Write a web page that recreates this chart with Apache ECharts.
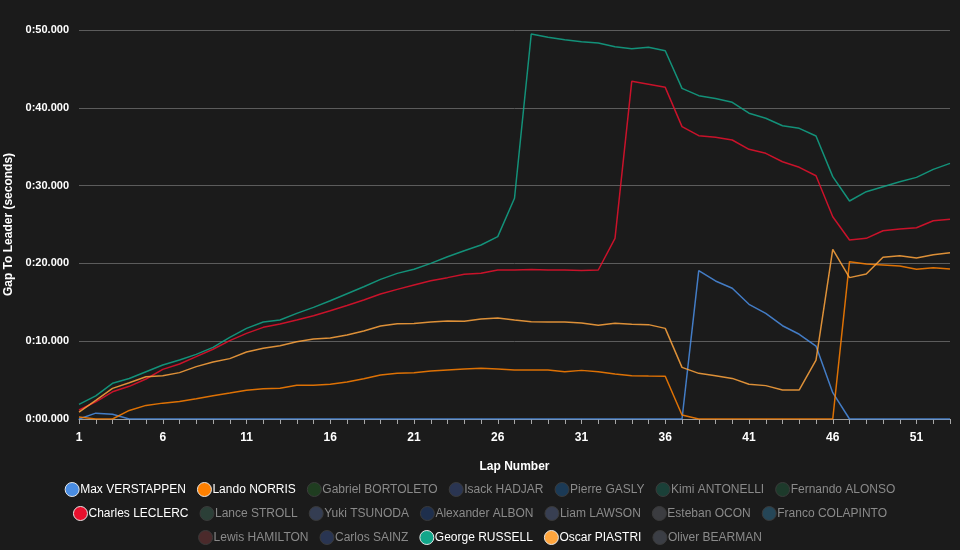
<!DOCTYPE html>
<html>
<head>
<meta charset="utf-8">
<script src="https://cdn.jsdelivr.net/npm/echarts@6/dist/echarts.min.js"></script>
<style>
  html, body { margin: 0; padding: 0; background: #1b1b1b; }
  #chart { width: 960px; height: 550px; }
</style>
</head>
<body>
<div id="chart"></div>
<script>
const laps = ['1','2','3','4','5','6','7','8','9','10','11','12','13','14','15','16','17','18','19','20',
  '21','22','23','24','25','26','27','28','29','30','31','32','33','34','35','36','37','38','39','40',
  '41','42','43','44','45','46','47','48','49','50','51','52','53']

const verstappen = [0, 0.75, 0.6, 0, 0, 0, 0, 0, 0, 0, 0, 0, 0, 0, 0, 0, 0, 0, 0, 0,
  0, 0, 0, 0, 0, 0, 0, 0, 0, 0, 0, 0, 0, 0, 0, 0, 0, 19.07, 17.74, 16.8,
  14.74, 13.58, 11.99, 10.89, 9.38, 3.38, 0, 0, 0, 0, 0, 0, 0]
const norris = [0.26, 0, 0, 1.1, 1.75, 2.04, 2.25, 2.61, 3.0, 3.34, 3.69, 3.9, 3.94, 4.33, 4.33, 4.46, 4.75, 5.16, 5.65, 5.87,
  5.96, 6.17, 6.3, 6.43, 6.51, 6.43, 6.3, 6.3, 6.3, 6.08, 6.25, 6.08, 5.78, 5.57, 5.53, 5.5, 0.51, 0, 0, 0,
  0, 0, 0, 0, 0, 0, 20.22, 19.92, 19.8, 19.67, 19.24, 19.45, 19.28]
const leclerc = [1.16, 2.2, 3.5, 4.2, 5.14, 6.38, 7.07, 8.01, 8.96, 10.07, 11.01, 11.78, 12.21, 12.72, 13.28, 13.92, 14.6, 15.3, 16.07, 16.66,
  17.22, 17.78, 18.17, 18.6, 18.72, 19.15, 19.15, 19.2, 19.15, 19.15, 19.1, 19.15, 23.22, 43.4, 43.02, 42.63, 37.58, 36.42, 36.2, 35.86,
  34.66, 34.15, 33.07, 32.35, 31.27, 26.0, 23.0, 23.22, 24.2, 24.42, 24.59, 25.49, 25.66]
const russell = [1.89, 2.98, 4.59, 5.2, 6.08, 6.94, 7.58, 8.31, 9.21, 10.5, 11.65, 12.47, 12.72, 13.58, 14.35, 15.2, 16.1, 17.0, 17.95, 18.72,
  19.24, 20.0, 20.86, 21.63, 22.36, 23.44, 28.37, 49.49, 49.06, 48.76, 48.5, 48.33, 47.86, 47.58, 47.77, 47.34, 42.5, 41.56, 41.2, 40.7,
  39.3, 38.65, 37.7, 37.36, 36.38, 31.15, 28.02, 29.22, 29.86, 30.5, 31.06, 32.09, 32.86]
const piastri = [0.88, 2.4, 3.94, 4.65, 5.44, 5.57, 5.96, 6.73, 7.33, 7.76, 8.61, 9.08, 9.42, 9.94, 10.28, 10.41, 10.8, 11.32, 11.95, 12.25,
  12.27, 12.47, 12.6, 12.57, 12.85, 12.98, 12.72, 12.51, 12.47, 12.47, 12.34, 12.04, 12.3, 12.17, 12.13, 11.65, 6.64, 5.87, 5.57, 5.22,
  4.46, 4.29, 3.73, 3.73, 7.58, 21.81, 18.17, 18.64, 20.78, 20.99, 20.69, 21.12, 21.38]

// drivers shown in the chart, with their gap data
const shownDrivers = [
  {name: 'Max VERSTAPPEN', color: '#4a8de3', data: verstappen},
  {name: 'Lando NORRIS', color: '#ff8000', data: norris},
  {name: 'Charles LECLERC', color: '#e8102d', data: leclerc},
  {name: 'George RUSSELL', color: '#12a68a', data: russell},
  {name: 'Oscar PIASTRI', color: '#ffa53d', data: piastri}
]
// drivers with no line drawn (legend only, faded)
const fadedDrivers = [
  {name: 'Gabriel BORTOLETO', color: '#1f3d20'},
  {name: 'Isack HADJAR', color: '#2a3552'},
  {name: 'Pierre GASLY', color: '#1b3a56'},
  {name: 'Kimi ANTONELLI', color: '#1a4038'},
  {name: 'Fernando ALONSO', color: '#1d3a2b'},
  {name: 'Lance STROLL', color: '#2b3f37'},
  {name: 'Yuki TSUNODA', color: '#343d52'},
  {name: 'Alexander ALBON', color: '#1e2f4d'},
  {name: 'Liam LAWSON', color: '#383f52'},
  {name: 'Esteban OCON', color: '#3b3c40'},
  {name: 'Franco COLAPINTO', color: '#254657'},
  {name: 'Lewis HAMILTON', color: '#4b2a2b'},
  {name: 'Carlos SAINZ', color: '#293552'},
  {name: 'Oliver BEARMAN', color: '#3b3e45'}
]

const legendRows = [
  ['Max VERSTAPPEN', 'Lando NORRIS', 'Gabriel BORTOLETO', 'Isack HADJAR', 'Pierre GASLY', 'Kimi ANTONELLI', 'Fernando ALONSO'],
  ['Charles LECLERC', 'Lance STROLL', 'Yuki TSUNODA', 'Alexander ALBON', 'Liam LAWSON', 'Esteban OCON', 'Franco COLAPINTO'],
  ['Lewis HAMILTON', 'Carlos SAINZ', 'George RUSSELL', 'Oscar PIASTRI', 'Oliver BEARMAN']
]
const seriesOrder = legendRows.flat()

const font = 'Liberation Sans, Arial, sans-serif'

function legendItem (name) {
  const shown = shownDrivers.find(d => d.name === name)
  if (shown) {
    return {
      name: name,
      itemStyle: {color: shown.color, borderColor: '#e6e6e6', borderWidth: 1},
      textStyle: {color: '#ffffff'}
    }
  }
  const faded = fadedDrivers.find(d => d.name === name)
  return {
    name: name,
    itemStyle: {color: faded.color, borderColor: '#3a3a3a', borderWidth: 1},
    textStyle: {color: '#8a8a8a'}
  }
}

const series = seriesOrder.map(name => {
  const shown = shownDrivers.find(d => d.name === name)
  const faded = fadedDrivers.find(d => d.name === name)
  return {
    type: 'line',
    name: name,
    data: shown ? shown.data : [],
    color: shown ? shown.color : faded.color,
    showSymbol: false,
    symbol: 'none',
    lineStyle: {width: 1.5, opacity: 0.85},
    animation: false
  }
})

const chart = echarts.init(document.getElementById('chart'))
chart.setOption({
  backgroundColor: '#1b1b1b',
  textStyle: {fontFamily: font},
  grid: {left: 79, right: 10, top: 30, bottom: 131, outerBoundsMode: 'none', containLabel: false},
  legend: legendRows.map((row, i) => ({
    data: row.map(legendItem),
    left: 'center',
    top: 482 + i * 24,
    padding: 0,
    icon: 'circle',
    itemWidth: 14,
    itemHeight: 14,
    itemGap: 11,
    textStyle: {fontSize: 12, fontFamily: font, padding: [0, 0, 0, -4]}
  })),
  xAxis: {
    type: 'category',
    data: laps,
    boundaryGap: false,
    name: 'Lap Number',
    nameLocation: 'middle',
    nameGap: 42,
    nameTextStyle: {color: '#ffffff', fontWeight: 'bold', fontSize: 12},
    axisLine: {lineStyle: {color: '#9a9a9a', width: 1}},
    axisTick: {show: true, interval: 0, length: 5, lineStyle: {color: '#a8a8a8'}},
    axisLabel: {interval: 4, color: '#ffffff', fontWeight: 'bold', fontSize: 12, margin: 13},
    splitLine: {show: false}
  },
  yAxis: {
    type: 'value',
    min: 0,
    max: 50,
    interval: 10,
    name: 'Gap To Leader (seconds)',
    nameLocation: 'middle',
    nameGap: 64,
    nameTextStyle: {color: '#ffffff', fontWeight: 'bold', fontSize: 12},
    axisLine: {show: false},
    axisTick: {show: false},
    axisLabel: {
      color: '#ffffff',
      fontWeight: 'bold',
      fontSize: 11,
      margin: 10,
      formatter: v => '0:' + (v < 10 ? '0' : '') + v.toFixed(3)
    },
    splitLine: {lineStyle: {color: '#5c5c5c', width: 1}}
  },
  series: series
})
</script>
</body>
</html>
